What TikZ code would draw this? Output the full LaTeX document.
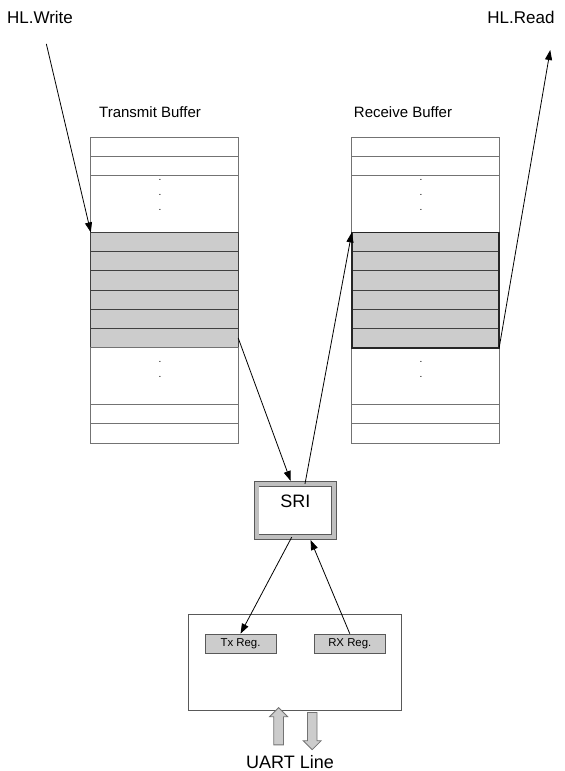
\documentclass[tikz,border=0pt]{standalone}
\usepackage{fontspec}
\setmainfont{Liberation Sans}
\usetikzlibrary{arrows.meta,positioning,shapes.arrows}

\begin{document}
\begin{tikzpicture}[
  x=0.5pt, y=-0.5pt,
  node distance=0pt,
  cell/.style={rectangle, draw=black!55, outer sep=0pt, inner sep=0pt,
    minimum width=73.7pt, minimum height=9.6pt},
  gapcell/.style={cell, minimum height=28.5pt},
  used/.style={cell, draw=black!75, fill=black!20},
  dots/.style={font=\fontsize{5}{7.5}\selectfont, align=center, inner sep=0pt},
  lbl/.style={font=\fontsize{8.5}{10}\selectfont},
  title/.style={font=\fontsize{7.5}{9}\selectfont},
  reg/.style={rectangle, draw=black!65, fill=black!20, inner sep=0pt,
    minimum width=35.5pt, minimum height=9.6pt, font=\fontsize{5.7}{7}\selectfont},
  wire/.style={-{Triangle[length=5pt,width=3.5pt]}},
  bigarr/.style={single arrow, draw=black!55, fill=black!20, inner sep=2.2pt,
    minimum height=18.6pt, single arrow head extend=2.1pt}
]
\useasboundingbox (0,0) rectangle (565,771);

% Labels
\node[lbl] (hlw) at (40,17) {HL.Write};
\node[lbl] (hlr) at (521,17) {HL.Read};
\node[title] (txt) at (150,112) {Transmit Buffer};
\node[title] (rxt) at (403,112) {Receive Buffer};

% Transmit buffer
\node[cell, anchor=north] (tx1) at (164.5,137) {};
\node[cell, below=of tx1] (tx2) {};
\node[gapcell, below=of tx2] (txgap1) {};
\node[used, below=of txgap1] (txu1) {};
\node[used, below=of txu1] (txu2) {};
\node[used, below=of txu2] (txu3) {};
\node[used, below=of txu3] (txu4) {};
\node[used, below=of txu4] (txu5) {};
\node[used, below=of txu5] (txu6) {};
\node[gapcell, below=of txu6] (txgap2) {};
\node[cell, below=of txgap2] (tx3) {};
\node[cell, below=of tx3] (tx4) {};
\node[dots] (txdots1) at (160,195) {.\\.\\.};
\node[dots] (txdots2) at (160,369) {.\\.};

% Receive buffer
\node[cell, anchor=north] (rx1) at (425.5,137) {};
\node[cell, below=of rx1] (rx2) {};
\node[gapcell, below=of rx2] (rxgap1) {};
\node[used, below=of rxgap1] (rxu1) {};
\node[used, below=of rxu1] (rxu2) {};
\node[used, below=of rxu2] (rxu3) {};
\node[used, below=of rxu3] (rxu4) {};
\node[used, below=of rxu4] (rxu5) {};
\node[used, below=of rxu5] (rxu6) {};
\node[gapcell, below=of rxu6] (rxgap2) {};
\node[cell, below=of rxgap2] (rx3) {};
\node[cell, below=of rx3] (rx4) {};
\node[dots] (rxdots1) at (421,195) {.\\.\\.};
\node[dots] (rxdots2) at (421,369) {.\\.};
\draw[line width=0.9pt, black!85] (rxu1.north west) rectangle (rxu6.south east);

% SRI
\node[rectangle, draw=black!65, double=black!25, double distance=2pt, fill=white,
  minimum width=38.85pt, minimum height=26.3pt, inner sep=0pt,
  text height=6.5pt, text depth=9.3pt, font=\fontsize{9}{11}\selectfont]
  (sri) at (295.4,510.5) {SRI};

% UART
\node[rectangle, draw=black!65, minimum width=106.35pt, minimum height=47.85pt]
  (uart) at (294.65,662.15) {};
\node[reg] (txr) at (240.5,643.7) {Tx Reg.};
\node[reg] (rxr) at (349.8,643.7) {RX Reg.};
\node[bigarr, rotate=90] (uin) at (278.6,728.65) {};
\node[bigarr, rotate=-90] (uout) at (312.2,728.65) {};
\node[font=\fontsize{9}{11}\selectfont] (line) at (290,761.7) {UART Line};

% Connectors
\draw[wire, shorten <=7pt] (hlw) -- (txu1.north west);
\draw[wire, shorten >=10pt] (rxu6.south east) -- ([xshift=-4pt]hlr.south east);
\draw[wire, shorten >=1.5pt] (txu6.east) -- ([xshift=-1.85pt]sri.north);
\draw[wire] ([xshift=4.8pt]sri.north) -- (rxu1.north west);
\draw[wire] ([xshift=-1.85pt]sri.south) -- (txr.north);
\draw[wire, shorten >=1.5pt] (rxr.north) -- ([xshift=7pt]sri.south);

\end{tikzpicture}
\end{document}
